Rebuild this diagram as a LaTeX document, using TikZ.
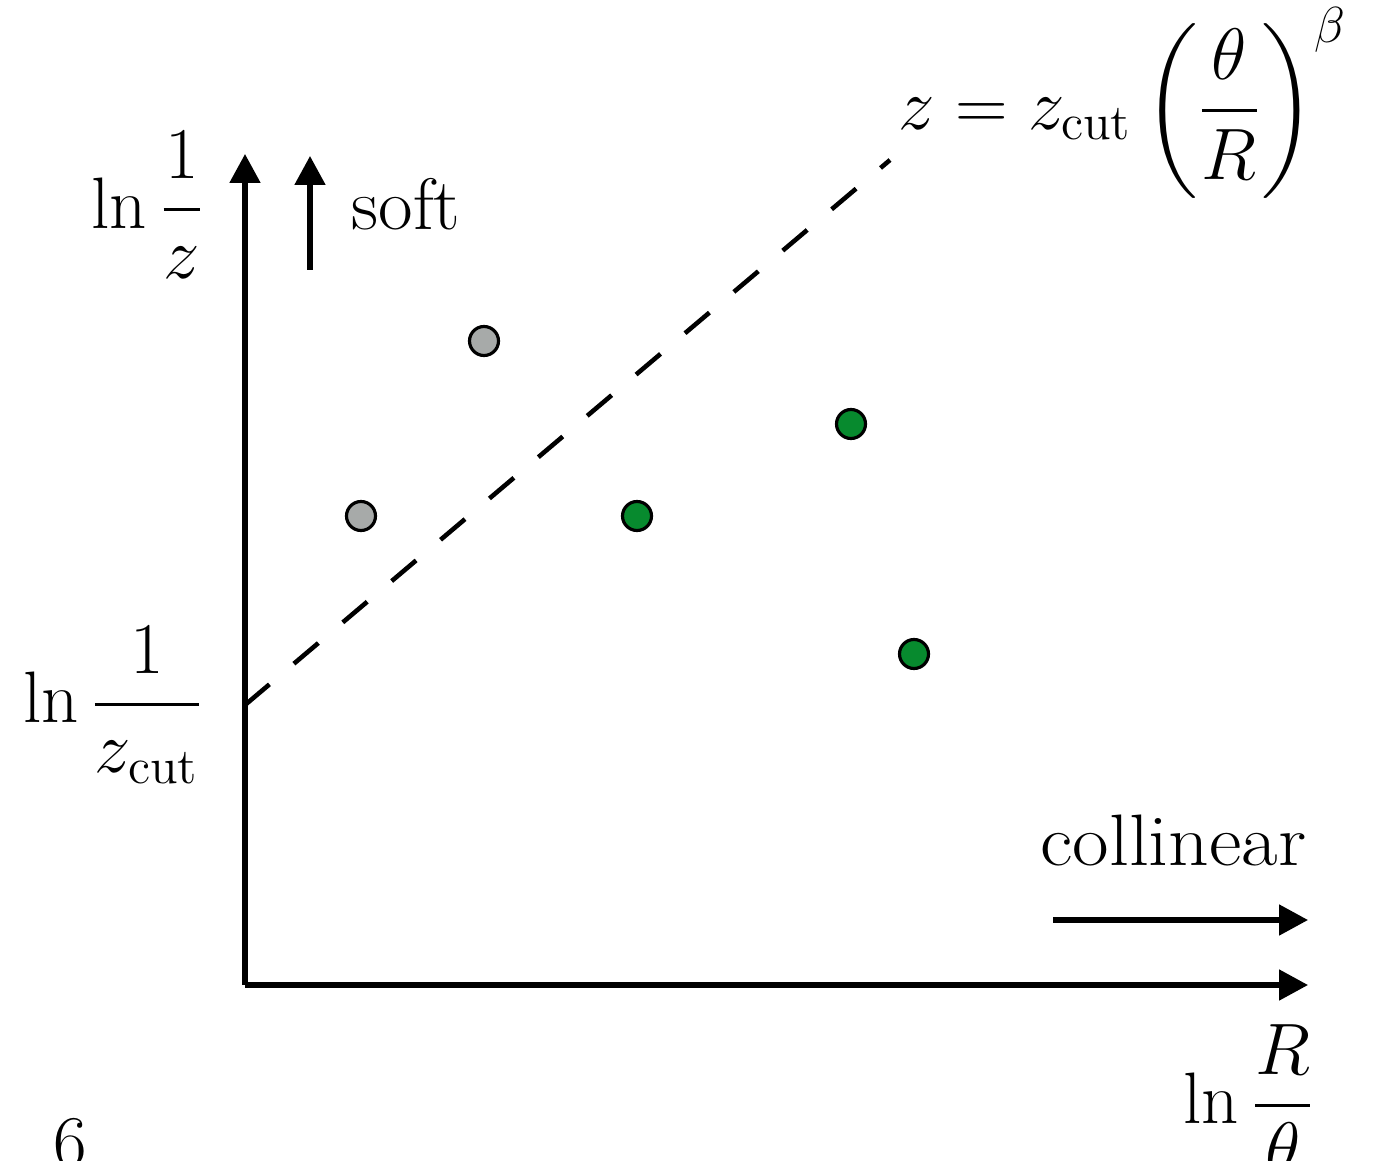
\documentclass[tikz,border=0pt]{standalone}
\usepackage{amsmath}
\usepackage{tikz}
\usetikzlibrary{arrows.meta,positioning}
\definecolor{softgray}{HTML}{A7AAA9}
\definecolor{hardgreen}{HTML}{078A2E}

\begin{document}
\begin{tikzpicture}[every node/.style={font=\huge},
    axis/.style={line width=1.45pt, -{Triangle[length=0.29cm,width=0.30cm]}},
    cutline/.style={line width=1.3pt, dash pattern=on 0.32cm off 0.32cm},
    emission/.style={circle, draw, line width=0.9pt, inner sep=0pt, minimum size=0.29cm}]
    \useasboundingbox (0,0) rectangle (13.75,11.6);
    \clip (0,0) rectangle (13.75,11.6);

    % Axes
    \coordinate (orig) at (2.45,1.75);
    \coordinate (ytip) at (2.45,10.06);
    \coordinate (xtip) at (13.08,1.75);
    \draw[axis] (orig) -- (ytip);
    \draw[axis] (orig) -- (xtip);

    % Direction arrows
    \coordinate (softfrom) at (3.10,8.90);
    \coordinate (softto) at (3.10,10.04);
    \draw[axis] (softfrom) -- (softto);
    \coordinate (collfrom) at (10.53,2.40);
    \coordinate (collto) at (13.08,2.40);
    \draw[axis] (collfrom) -- (collto);

    % Cut line
    \coordinate (cutlow) at (2.45,4.55);
    \coordinate (cuthigh) at (8.90,10.00);
    \draw[cutline] (cutlow) -- (cuthigh);

    % Emissions
    \node[emission, fill=softgray] (s1) at (4.84,8.19) {};
    \node[emission, fill=softgray] (s2) at (3.61,6.44) {};
    \node[emission, fill=hardgreen] (h1) at (6.37,6.44) {};
    \node[emission, fill=hardgreen] (h2) at (8.51,7.36) {};
    \node[emission, fill=hardgreen] (h3) at (9.14,5.06) {};

    % Labels
    \node (ylab) at (1.48,9.55) {$\displaystyle \ln\frac{1}{z}$};
    \node (zcutlab) at (1.13,4.55) {$\displaystyle \ln\frac{1}{z_{\text{cut}}}$};
    \node (xlab) at (12.49,0.61) {$\displaystyle \ln\frac{R}{\theta}$};
    \node[inner sep=0pt] (cutlab) at (11.23,10.57) {$\displaystyle z = z_{\text{cut}}\left(\frac{\theta}{R}\right)^{\beta}$};
    \node[anchor=base west, inner sep=0pt, xscale=1.03, transform shape] (softlab) at (3.51,9.30) {soft};
    \node[anchor=base east, inner sep=0pt, xscale=1.09, transform shape] (colllab) at (13.07,2.95) {collinear};
    \node[anchor=base, inner sep=0pt] (pagelab) at (0.70,-0.06) {6};
\end{tikzpicture}
\end{document}
